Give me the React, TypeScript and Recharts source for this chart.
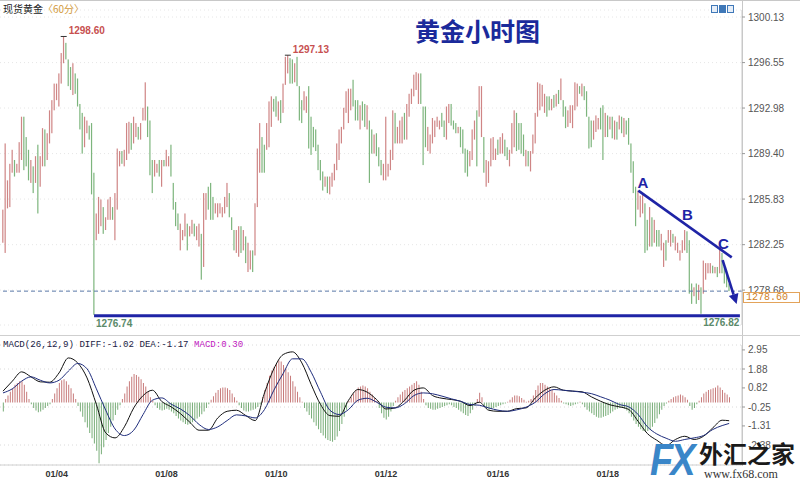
import React from 'react';
import {
  ComposedChart, Bar, Line, XAxis, YAxis, CartesianGrid,
  ReferenceLine, ReferenceDot, Cell,
} from 'recharts';

// hourly spot gold bars, oldest first
const highs = [
  1285.0, 1290.2, 1287.3, 1288.6, 1289.7, 1288.9, 1288.6, 1290.3, 1292.3, 1292.3,
  1290.7, 1289.7, 1288.9, 1288.4, 1289.2, 1290.1, 1289.2, 1291.4, 1291.3, 1291.0,
  1292.8, 1293.6, 1294.9, 1294.9, 1295.7, 1297.3, 1298.6, 1298.1, 1296.8, 1296.2,
  1296.5, 1295.7, 1295.3, 1293.3, 1292.6, 1292.3, 1292.0, 1291.6, 1291.8, 1287.9,
  1284.7, 1286.0, 1285.8, 1285.2, 1284.4, 1285.8, 1286.0, 1285.2, 1286.3, 1289.8,
  1289.6, 1289.6, 1289.7, 1291.8, 1291.9, 1291.8, 1292.3, 1291.8, 1291.5, 1291.8,
  1293.0, 1295.0, 1293.1, 1292.0, 1288.9, 1288.9, 1288.6, 1288.9, 1288.9, 1288.9,
  1289.7, 1289.2, 1290.1, 1287.1, 1285.6, 1284.7, 1283.9, 1283.4, 1284.7, 1283.9,
  1283.7, 1284.2, 1283.9, 1283.7, 1283.9, 1283.1, 1286.3, 1286.3, 1286.8, 1287.1,
  1286.0, 1285.5, 1285.5, 1285.5, 1285.2, 1286.0, 1287.1, 1286.3, 1284.4, 1283.4,
  1283.4, 1283.7, 1283.7, 1283.4, 1282.9,
  1282.4, 1281.8, 1281.8, 1285.5, 1289.8, 1291.8, 1290.7, 1290.1, 1291.8, 1293.5,
  1293.9, 1293.7, 1293.9, 1293.5, 1293.6, 1294.9, 1297.0, 1297.13, 1296.9, 1296.8,
  1296.5, 1297.0, 1294.7, 1293.6, 1294.3, 1293.9, 1294.7, 1292.3, 1291.5, 1291.3,
  1290.1, 1288.9, 1288.0, 1287.6, 1287.6, 1287.6, 1287.9, 1288.6, 1290.2, 1291.3,
  1291.5, 1293.0, 1294.3, 1294.5, 1294.5, 1295.2, 1293.6, 1293.6, 1293.2, 1293.5,
  1293.3, 1293.2, 1292.0, 1291.3, 1290.9, 1291.0, 1289.9, 1288.9, 1288.6, 1292.3,
  1288.6, 1289.7, 1292.8, 1292.6, 1291.5, 1292.0, 1292.3, 1292.6, 1293.3, 1294.1,
  1294.5, 1295.6, 1295.8, 1295.7, 1295.7, 1293.1, 1293.1, 1291.5, 1290.9, 1292.2,
  1292.0, 1292.3, 1292.0, 1292.6, 1292.0, 1293.1, 1293.3, 1293.3, 1292.0, 1291.8,
  1291.5, 1291.5, 1291.3, 1289.8, 1289.7, 1289.6, 1291.3, 1292.0, 1292.8, 1294.7,
  1294.7, 1290.7, 1288.9, 1288.8, 1290.6,
  1290.7, 1289.8, 1290.5, 1290.7, 1291.0, 1290.5, 1289.9, 1289.7, 1291.8, 1292.8,
  1292.6, 1291.8, 1291.8, 1290.9, 1289.7, 1289.6, 1289.6, 1290.9, 1292.6, 1295.0,
  1294.9, 1294.8, 1294.1, 1293.9, 1293.9, 1293.7, 1294.0, 1294.1, 1294.4, 1295.3,
  1293.6, 1293.1, 1292.8, 1293.2, 1293.2, 1295.0, 1294.9, 1294.7, 1294.9, 1294.7,
  1294.3, 1292.3, 1292.0, 1292.0, 1292.4, 1292.2, 1293.0, 1293.2, 1292.6, 1292.4,
  1292.3, 1292.3, 1292.0, 1291.9, 1292.4, 1292.3, 1292.2, 1292.0, 1292.2, 1290.2,
  1288.8, 1286.8, 1286.5, 1286.1, 1286.3, 1285.5, 1284.2, 1285.2, 1284.4, 1284.2,
  1283.4, 1283.4, 1283.1, 1282.4, 1282.6, 1283.4, 1283.4, 1283.1, 1282.9, 1282.4,
  1281.8, 1282.6, 1283.4, 1283.3, 1282.6, 1279.2, 1278.9, 1279.2, 1279.1, 1278.9,
  1281.0, 1280.8, 1280.8, 1280.8, 1280.6, 1280.5, 1280.5, 1282.0, 1281.6, 1280.5,
  1280.0, 1279.2,
];

const lows = [
  1282.4, 1281.6, 1285.1, 1285.2, 1287.9, 1287.6, 1287.9, 1287.9, 1288.9, 1288.1,
  1288.4, 1287.3, 1287.1, 1286.3, 1287.1, 1284.7, 1286.8, 1288.4, 1288.4, 1288.9,
  1290.2, 1291.0, 1292.8, 1293.6, 1293.1, 1294.9, 1296.5, 1296.8, 1294.7, 1294.4,
  1294.0, 1294.1, 1293.1, 1291.3, 1289.4, 1289.9, 1291.0, 1290.5, 1286.2, 1276.74,
  1282.6, 1283.1, 1283.7, 1283.1, 1283.4, 1284.2, 1284.2, 1284.2, 1282.6, 1285.0,
  1288.4, 1288.6, 1288.4, 1288.9, 1289.4, 1289.7, 1290.2, 1290.7, 1290.5, 1290.5,
  1292.0, 1292.0, 1290.7, 1287.7, 1286.3, 1287.6, 1287.9, 1287.6, 1286.8, 1288.4,
  1288.4, 1288.4, 1287.6, 1285.0, 1283.7, 1283.4, 1281.8, 1282.6, 1282.9, 1281.8,
  1282.9, 1283.1, 1282.9, 1282.6, 1282.1, 1279.5, 1280.5, 1284.2, 1285.0, 1284.2,
  1284.2, 1284.7, 1284.4, 1284.7, 1284.4, 1284.7, 1285.2, 1284.4, 1283.4, 1281.8,
  1281.6, 1281.3, 1281.6, 1281.8, 1280.8,
  1280.1, 1280.3, 1280.1, 1281.4, 1285.2, 1287.9, 1287.9, 1287.9, 1289.7, 1289.9,
  1291.5, 1292.7, 1292.3, 1292.0, 1291.8, 1292.6, 1294.8, 1295.7, 1294.9, 1294.9,
  1295.0, 1294.7, 1292.0, 1291.8, 1292.8, 1292.6, 1289.8, 1289.3, 1289.9, 1289.6,
  1288.1, 1287.3, 1286.5, 1286.8, 1286.3, 1286.2, 1286.8, 1287.3, 1288.1, 1288.9,
  1290.2, 1291.3, 1292.6, 1291.8, 1292.8, 1293.1, 1292.0, 1292.0, 1291.3, 1292.0,
  1291.5, 1291.3, 1287.1, 1289.4, 1289.4, 1289.2, 1288.4, 1287.7, 1287.3, 1287.3,
  1287.6, 1288.1, 1288.9, 1290.2, 1290.2, 1290.2, 1290.2, 1290.5, 1290.5, 1292.3,
  1293.3, 1293.9, 1294.4, 1293.3, 1293.3, 1288.5, 1289.9, 1289.6, 1289.4, 1290.2,
  1290.7, 1291.5, 1291.3, 1291.5, 1290.7, 1290.5, 1291.8, 1291.6, 1291.3, 1291.0,
  1291.0, 1289.9, 1289.4, 1287.9, 1287.6, 1288.4, 1288.9, 1290.5, 1288.4, 1292.3,
  1290.7, 1287.9, 1286.8, 1287.1, 1288.4,
  1288.9, 1288.9, 1289.3, 1289.4, 1289.4, 1289.2, 1288.9, 1288.4, 1289.4, 1289.9,
  1289.6, 1289.7, 1289.4, 1289.2, 1288.4, 1288.4, 1288.0, 1289.4, 1290.2, 1292.3,
  1292.8, 1293.1, 1292.6, 1292.3, 1292.8, 1292.8, 1293.0, 1293.1, 1293.3, 1293.6,
  1292.3, 1291.4, 1291.5, 1291.8, 1291.4, 1292.8, 1293.1, 1294.1, 1293.9, 1293.6,
  1292.3, 1289.8, 1289.9, 1290.5, 1291.1, 1291.3, 1291.3, 1288.9, 1290.7, 1290.7,
  1291.3, 1290.6, 1290.5, 1290.5, 1291.3, 1291.0, 1290.7, 1290.9, 1290.1, 1287.9,
  1286.3, 1283.7, 1285.0, 1284.4, 1284.7, 1281.6, 1281.8, 1282.1, 1282.1, 1282.4,
  1282.1, 1282.1, 1281.8, 1280.5, 1281.0, 1282.4, 1282.1, 1282.4, 1281.8, 1281.6,
  1281.0, 1281.6, 1281.8, 1281.6, 1278.4, 1277.6, 1278.2, 1277.6, 1277.9, 1276.82,
  1278.4, 1279.5, 1280.0, 1280.0, 1280.0, 1280.0, 1279.7, 1280.0, 1280.0, 1279.2,
  1278.9, 1278.6,
];

// r = up bar, g = down bar
const dirs =
  'rrrrrgrrrg' + 'ggrgrgrrgr' + 'rrrrrrrggg' + 'rggggrrggg' + 'rrrgrrrgrr' +
  'rgrrrgrrgr' + 'rrgggrrgrg' + 'rrggggrrrg' + 'rrgrrgrrgg' + 'grrrrrrggg' + 'rrgrg' +
  'rrgrr' + 'rggrrrggrg' + 'rrrggrgggr' + 'rgggggggrg' + 'rrrrrrrrrr' + 'gggrggrggr' +
  'gggrrrrrgr' + 'rrgrrrrrrg' + 'ggrrrrrrgg' + 'rrgggrgggg' + 'rrrgrrgrrr' +
  'rrgrrggrrr' + 'ggggrgrrrr' + 'rrrggrgrgr' + 'ggrrrrrgrg' + 'gggrrrggrg' +
  'rgrgrgrggg' + 'ggrrrggrgr' + 'ggrrgrrgrr' + 'rrrgggrgrg' + 'rrrrgrgrgg' + 'gg';

// MACD histogram, one per bar
const histVals = [
  -0.5,
  0.2, 0.4, 0.6, 0.8, 1.0, 1.1, 1.2, 1.2, 1.0, 0.6, 0.2,
  -0.1, -0.3, -0.45, -0.55, -0.5, -0.4, -0.3, -0.2, -0.1,
  0.2, 0.5, 0.8, 1.1, 1.25, 1.3, 1.2, 1.0, 0.8, 0.5, 0.2,
  -0.2, -0.5, -0.8, -1.1, -1.4, -1.7, -2.0, -2.3, -2.7, -3.4, -2.9, -2.5, -2.1, -1.7, -1.35, -1.0, -0.7, -0.4, -0.15,
  0.2, 0.5, 0.9, 1.2, 1.45, 1.6, 1.55, 1.45, 1.3, 1.1, 0.9, 0.6, 0.3, 0.1,
  -0.15, -0.3, -0.4, -0.45, -0.4, -0.35, -0.4, -0.5, -0.6, -0.75, -0.9, -1.0, -1.1, -1.2, -1.25, -1.2, -1.1, -1.0, -0.9, -0.8, -0.65, -0.5, -0.3, -0.1,
  0.15, 0.35, 0.55, 0.7, 0.8, 0.85, 0.85, 0.8, 0.7, 0.5, 0.3, 0.1,
  -0.15, -0.3, -0.45, -0.5, -0.5, -0.45, -0.4, -0.35, -0.25, -0.1,
  0.3, 0.7, 1.1, 1.5, 1.8, 2.0, 2.2, 2.35, 2.3, 2.1, 1.9, 1.7, 1.5, 1.2, 0.9, 0.6, 0.3, 0.05,
  -0.3, -0.5, -0.7, -0.9, -1.1, -1.3, -1.5, -1.7, -1.85, -2.0, -2.1, -2.15, -2.2, -2.1, -1.9, -1.6, -1.2, -0.8, -0.4,
  0.1, 0.3, 0.5, 0.7, 0.85, 0.9, 0.95, 0.9, 0.8, 0.6, 0.45, 0.25, 0.1,
  -0.3, -0.6, -0.85, -0.95, -0.8, -0.5, -0.2,
  0.1, 0.3, 0.45, 0.6, 0.7, 0.8, 0.9, 1.0, 1.1, 1.2, 1.0, 0.6, 0.2,
  -0.15, -0.3, -0.35, -0.4, -0.4, -0.35, -0.3, -0.25, -0.2, -0.15, -0.1, -0.15, -0.25, -0.3, -0.4, -0.5, -0.6, -0.7, -0.75, -0.6, -0.4, -0.2,
  0.2, 0.55, 0.3,
  -0.2, -0.35, -0.4, -0.35, -0.3, -0.25, -0.2, -0.15, -0.1, -0.05, 0.05,
  0.15, 0.3, 0.4, 0.4, 0.35, 0.25, 0.15, 0.05,
  0.1, 0.2, 0.4,
  0.7, 0.95, 1.1, 1.1, 1.0, 0.9, 0.8, 0.7, 0.55, 0.4, 0.25, 0.1,
  -0.05, -0.1, -0.15, -0.2, -0.15, -0.1, -0.05, 0.05,
  -0.1, -0.25, -0.4, -0.5, -0.6, -0.7, -0.8, -0.85, -0.85, -0.8, -0.75, -0.7, -0.6, -0.5, -0.4, -0.35, -0.3, -0.3, -0.35, -0.45,
  -0.6, -0.8, -1.0, -1.2, -1.35, -1.5, -1.6, -1.65, -1.6, -1.5, -1.35, -1.15, -0.9, -0.65, -0.4, -0.2, -0.05,
  0.1, 0.2, 0.3, 0.35, 0.4, 0.45, 0.4, 0.3, 0.15,
  -0.2, -0.4, -0.3, -0.1,
  0.1, 0.3, 0.5, 0.6, 0.7, 0.75, 0.8, 0.85, 0.95, 0.85, 0.7, 0.55, 0.45, 0.3,
];

// DIFF / DEA read every 4th bar
const lineIdx = [
  0, 4, 8, 12, 16, 20, 24, 28, 32, 36, 40, 44, 48, 52, 56, 60, 64, 68, 72, 76,
  80, 84, 88, 92, 96, 100, 104, 108, 112, 116, 120, 124, 128, 132, 136, 140, 144, 148, 152, 156,
  160, 164, 168, 172, 176, 180, 184, 188, 192, 196, 200, 204, 208, 212, 216, 220, 224, 228, 232, 236,
  240, 244, 248, 252, 256, 260, 264, 268, 272, 276, 280, 284, 288, 292, 296, 300, 304, 308, 311,
];
const diffVals = [
  0.64, 1.20, 1.72, 1.44, 1.16, 1.14, 1.66, 2.50, 2.22, 1.38,
  -0.11, -1.70, -1.98, -1.36, -0.30, 0.39, 0.69, 0.06, -0.24, -0.62,
  -1.10, -1.55, -1.55, -0.86, -0.49, -0.43, -0.73, -1.01, 0.54, 1.89,
  2.69, 2.84, 2.22, 1.01, -0.11, -0.73, -0.77, 0.13, 0.73, 0.58,
  0.17, -0.36, -0.30, 0.13, 0.69, 0.82, 0.39, 0.24, 0.17, 0.07,
  -0.17, 0.02, -0.43, -0.49, -0.49, -0.34, -0.30, 0.26, 0.69, 0.88,
  0.69, 0.64, 0.60, 0.32, 0.07, -0.13, -0.24, -0.39, -1.05, -1.74,
  -2.11, -2.41, -2.07, -1.89, -2.07, -1.89, -1.42, -0.99, -1.02,
];
const deaVals = [
  0.54, 0.77, 1.20, 1.44, 1.25, 1.10, 1.25, 1.76, 2.19, 1.89,
  0.77, -0.43, -1.48, -1.85, -1.55, -0.67, 0.13, 0.26, -0.09, -0.36,
  -0.73, -1.23, -1.51, -1.36, -1.01, -0.69, -0.75, -0.86, -0.39, 0.69,
  1.63, 2.45, 2.45, 1.70, 0.58, -0.43, -0.67, -0.39, 0.13, 0.24,
  0.02, -0.26, -0.30, -0.06, 0.39, 0.54, 0.49, 0.36, 0.21, 0.07,
  -0.11, -0.15, -0.30, -0.43, -0.49, -0.41, -0.26, 0.02, 0.49, 0.73,
  0.69, 0.64, 0.58, 0.50, 0.32, 0.13, -0.11, -0.24, -0.67, -1.36,
  -1.76, -2.00, -2.17, -2.07, -1.98, -1.85, -1.51, -1.29, -1.17,
];

const priceTicks = [1278.68, 1282.25, 1285.83, 1289.40, 1292.98, 1296.55, 1300.13];
const macdTicks = [2.95, 1.88, 0.82, -0.25, -1.31, -2.38];
const dateTicks = [23, 70, 117, 164, 212, 259];
const dateLabels = ['01/04', '01/08', '01/10', '01/12', '01/16', '01/18'];

const lastPrice = 1278.60;
const supportLevel = 1276.66;
const supportFrom = 39;
const trendLine = [{ x: 272.1, y: 1286.49 }, { x: 312.1, y: 1281.25 }];
const arrowLine = [{ x: 308.2, y: 1281.04 }, { x: 314.2, y: 1277.58 }];
const abcLabels = [
  { t: 'A', x: 274.1, y: 1287.09 },
  { t: 'B', x: 293.1, y: 1284.55 },
  { t: 'C', x: 308.5, y: 1282.3 },
];
const extremes = [
  { t: '1298.60', x: 26, y: 1298.6, top: true },
  { t: '1297.13', x: 122, y: 1297.13, top: true },
  { t: '1276.74', x: 39, y: 1276.74, top: false },
  { t: '1276.82', x: 299, y: 1276.82, top: false },
];

const X_DOMAIN: [number, number] = [-1.28, 316.5];
const RED = '#cf8585';
const GREEN = '#7db57d';
const BLUE = '#1f24a6';

const priceData = highs.map((h, i) => ({ i, range: [lows[i], h], up: dirs[i] === 'r' }));
const macdData = histVals.map((v, i) => {
  const k = lineIdx.indexOf(i);
  return { i, hist: v, diff: k >= 0 ? diffVals[k] : null, dea: k >= 0 ? deaVals[k] : null };
});

const PriceBar = (props: any) => {
  const { x, y, width, height, payload } = props;
  const top = height < 0 ? y + height : y;
  const h = Math.max(Math.abs(height), 1);
  return <rect x={x + width / 2 - 0.6} y={top} width={1.2} height={h} fill={payload.up ? RED : GREEN} />;
};

const Arrow = (p: any) => {
  const { x1, y1, x2, y2 } = p;
  const a = Math.atan2(y2 - y1, x2 - x1);
  const bx = x2 - 10 * Math.cos(a);
  const by = y2 - 10 * Math.sin(a);
  const px = -Math.sin(a) * 5;
  const py = Math.cos(a) * 5;
  return (
    <g>
      <line x1={x1} y1={y1} x2={bx} y2={by} stroke={BLUE} strokeWidth={2.6} />
      <polygon points={`${x2},${y2} ${bx + px},${by + py} ${bx - px},${by - py}`} fill={BLUE} />
    </g>
  );
};

const axisTick = { fontSize: 10, fill: '#555', fontFamily: '"Liberation Sans", Arial' };

export default function App() {
  return (
    <div style={{ position: 'relative', width: 800, height: 483, background: '#fff', overflow: 'hidden', fontFamily: '"Liberation Sans", Arial, sans-serif' }}>
      <style>{'body{margin:0}'}</style>
      <div style={{ position: 'absolute', left: 0, top: 0, width: 800, height: 1, background: '#c8c8c8' }} />
      <div style={{ position: 'absolute', left: 742, top: 0, width: 1, height: 466, background: '#c8c8c8' }} />

      <div style={{ position: 'absolute', top: 0 }}>
        <ComposedChart width={800} height={340} data={priceData} margin={{ top: 10, right: 0, bottom: 15, left: 0 }}>
          <CartesianGrid vertical={false} stroke="#e6e6e6" strokeDasharray="1 3" />
          <XAxis type="number" dataKey="i" domain={X_DOMAIN} allowDataOverflow hide />
          <YAxis orientation="right" width={58} domain={[1275.94, 1300.68]} allowDataOverflow ticks={priceTicks}
            tickFormatter={(v: number) => v.toFixed(2)} tick={axisTick} tickSize={3} tickMargin={3}
            axisLine={{ stroke: '#c8c8c8' }} tickLine={{ stroke: '#999' }} />
          <ReferenceLine y={lastPrice} stroke="#5a78a8" strokeDasharray="4 3" />
          <Bar dataKey="range" barSize={2} isAnimationActive={false} shape={PriceBar} />
          <ReferenceLine segment={[{ x: supportFrom, y: supportLevel }, { x: 315.6, y: supportLevel }]} stroke={BLUE} strokeWidth={3} ifOverflow="visible" />
          <ReferenceLine segment={trendLine} stroke={BLUE} strokeWidth={2.6} ifOverflow="visible" />
          <ReferenceLine segment={arrowLine} ifOverflow="visible" shape={Arrow} />
          {abcLabels.map((l) => (
            <ReferenceDot key={l.t} x={l.x} y={l.y} r={3} ifOverflow="visible"
              shape={(p: any) => (
                <text x={p.cx} y={p.cy + 5} textAnchor="middle" fontSize={15} fontWeight="bold" fill={BLUE}>{l.t}</text>
              )} />
          ))}
          {extremes.map((l) => (
            <ReferenceDot key={l.t} x={l.x} y={l.y} r={3} ifOverflow="visible"
              shape={(p: any) => (
                <g>
                  {l.top && <line x1={p.cx - 3} y1={p.cy} x2={p.cx + 3} y2={p.cy} stroke="#333" strokeWidth={1} />}
                  <text x={p.cx + (l.top ? 5 : 2)} y={l.top ? p.cy - 2 : p.cy + 12} fontSize={10} fontWeight="bold"
                    fill={l.top ? '#c75050' : '#5b8a6a'}>{l.t}</text>
                </g>
              )} />
          ))}
        </ComposedChart>
      </div>

      <div style={{ position: 'absolute', left: 0, top: 335, width: 800, height: 1, background: '#cfcfcf' }} />

      <div style={{ position: 'absolute', top: 338 }}>
        <ComposedChart width={800} height={145} data={macdData} margin={{ top: 7, right: 0, bottom: 0, left: 0 }}>
          <CartesianGrid vertical={false} stroke="#dadada" strokeDasharray="1 3" />
          <XAxis type="number" dataKey="i" domain={X_DOMAIN} allowDataOverflow ticks={dateTicks} height={18}
            axisLine={{ stroke: '#d0d0d0' }} tickLine={false} tickSize={0}
            tick={(p: any) => (
              <text x={p.x} y={p.y + 10} textAnchor="middle" fontSize={9} fontWeight="bold" fill="#333">
                {dateLabels[dateTicks.indexOf(p.payload.value)]}
              </text>
            )} />
          <YAxis orientation="right" width={58} domain={[-3.5, 3.225]} allowDataOverflow ticks={macdTicks}
            tick={axisTick} tickSize={3} tickMargin={3} axisLine={{ stroke: '#c8c8c8' }} tickLine={{ stroke: '#999' }} />
          <Bar dataKey="hist" barSize={1} isAnimationActive={false}>
            {macdData.map((d) => (
              <Cell key={d.i} fill={d.hist >= 0 ? '#c77a7a' : '#78ad78'} />
            ))}
          </Bar>
          <Line dataKey="diff" type="monotone" stroke="#111" strokeWidth={1} dot={false} connectNulls isAnimationActive={false} />
          <Line dataKey="dea" type="monotone" stroke="#1e2c7c" strokeWidth={1} dot={false} connectNulls isAnimationActive={false} />
        </ComposedChart>
      </div>

      <div style={{ position: 'absolute', left: 3, top: 3, fontSize: 10, fontFamily: '"Noto Sans CJK SC"', lineHeight: '12px', whiteSpace: 'nowrap' }}>
        <span style={{ color: '#222' }}>现货黄金</span>
        <span style={{ color: '#d29a3c' }}>〈60分〉</span>
      </div>
      {[711, 719, 727].map((x, k) => (
        <div key={x} style={{ position: 'absolute', left: x, top: 5, width: 5, height: 6, border: '1px solid #3f78b8', background: k === 1 ? '#3f78b8' : '#e6eef8' }} />
      ))}
      <div style={{ position: 'absolute', left: 415, top: 14, fontSize: 25, fontWeight: 'bold', color: '#1b2a9b', fontFamily: '"Noto Sans CJK SC"', lineHeight: '32px', whiteSpace: 'nowrap' }}>
        黄金小时图
      </div>
      <div style={{ position: 'absolute', left: 743, top: 292, width: 57, height: 11, border: '1px solid #e3a35a', background: '#fff', color: '#cf7f25', fontSize: 10, lineHeight: '10px', fontFamily: '"Liberation Mono", monospace', paddingLeft: 2, boxSizing: 'border-box' }}>
        {lastPrice.toFixed(2)}
      </div>
      <div style={{ position: 'absolute', left: 3, top: 339, fontSize: 9.1, fontFamily: '"Liberation Mono", monospace', color: '#1a1a44', whiteSpace: 'nowrap', lineHeight: '11px' }}>
        MACD(26,12,9) DIFF:-1.02 DEA:-1.17 <span style={{ color: '#c020c0' }}>MACD:0.30</span>
      </div>

      <div style={{ position: 'absolute', left: 650, top: 437, fontSize: 40, fontWeight: 'bold', fontStyle: 'italic', color: '#3a86c8', letterSpacing: -3, lineHeight: '40px', transform: 'scale(0.95, 1.12)', transformOrigin: 'left top' }}>
        FX
      </div>
      <div style={{ position: 'absolute', left: 699, top: 439, fontSize: 24, fontWeight: 'bold', color: '#1a1a1a', fontFamily: '"Noto Sans CJK SC"', lineHeight: '28px', whiteSpace: 'nowrap' }}>
        外汇之家
      </div>
      <div style={{ position: 'absolute', left: 704, top: 467, fontSize: 12, color: '#333', fontFamily: '"Liberation Serif", serif', lineHeight: '14px', whiteSpace: 'nowrap' }}>
        www.fx68.com
      </div>
    </div>
  );
}
